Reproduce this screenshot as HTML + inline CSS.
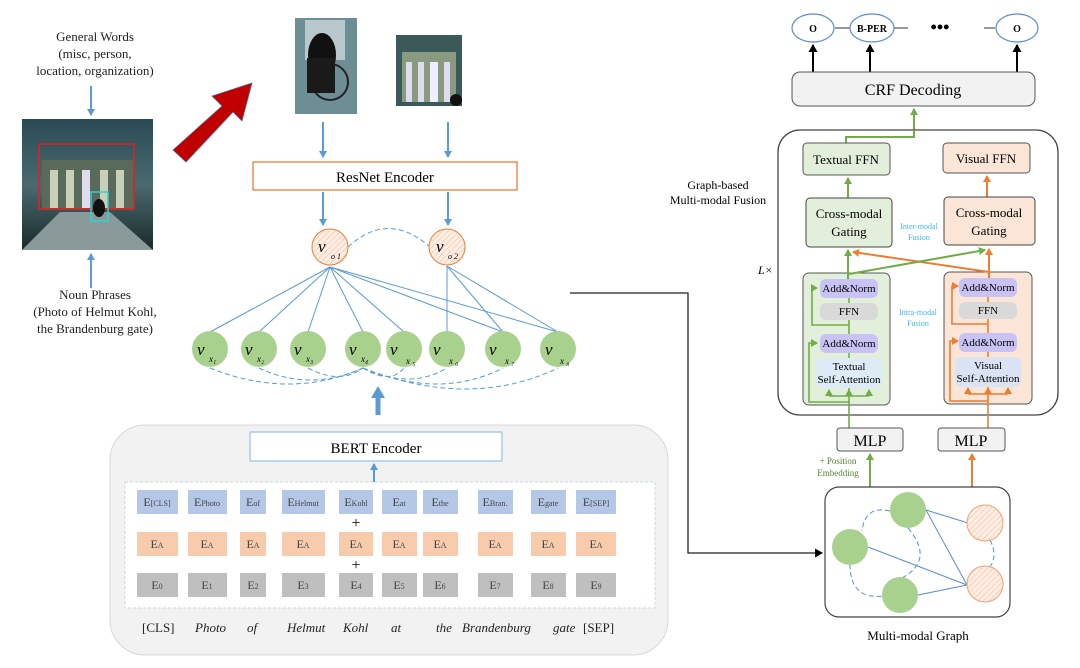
<!DOCTYPE html>
<html><head><meta charset="utf-8"><style>
html,body{margin:0;padding:0;background:#fff;}
svg{display:block;font-family:"Liberation Serif",serif;}
</style></head><body>
<svg width="1080" height="668" viewBox="0 0 1080 668" xmlns="http://www.w3.org/2000/svg">
<defs>
<marker id="ab" markerWidth="8" markerHeight="8" refX="6" refY="4" orient="auto" markerUnits="userSpaceOnUse"><path d="M0,0 L7,4 L0,8 Z" fill="#5b9bd5"/></marker>
<marker id="ag" markerWidth="8" markerHeight="8" refX="6" refY="4" orient="auto" markerUnits="userSpaceOnUse"><path d="M0,0 L7,4 L0,8 Z" fill="#70ad47"/></marker>
<marker id="ao" markerWidth="8" markerHeight="8" refX="6" refY="4" orient="auto" markerUnits="userSpaceOnUse"><path d="M0,0 L7,4 L0,8 Z" fill="#ed7d31"/></marker>
<marker id="ak" markerWidth="9" markerHeight="9" refX="7" refY="4.5" orient="auto" markerUnits="userSpaceOnUse"><path d="M0,0 L8,4.5 L0,9 Z" fill="#000"/></marker>
<pattern id="hatch" width="4" height="4" patternUnits="userSpaceOnUse" patternTransform="rotate(45)"><rect width="4" height="4" fill="#fdeee4"/><line x1="0" y1="0" x2="0" y2="4" stroke="#f4b89a" stroke-width="1"/></pattern>
<linearGradient id="sky" x1="0" y1="0" x2="0" y2="1"><stop offset="0" stop-color="#2a4a55"/><stop offset="0.5" stop-color="#4a6a70"/><stop offset="1" stop-color="#1a2a2a"/></linearGradient>
</defs>

<g font-size="13" text-anchor="middle" fill="#222">
<text x="95" y="41">General Words</text>
<text x="95" y="58">(misc, person,</text>
<text x="95" y="75">location, organization)</text>
<text x="95" y="299">Noun Phrases</text>
<text x="95" y="316">(Photo of Helmut Kohl,</text>
<text x="95" y="333">the Brandenburg gate)</text>
</g>
<line x1="91" y1="86" x2="91" y2="115" stroke="#5b9bd5" stroke-width="2" marker-end="url(#ab)"/>
<line x1="91" y1="288" x2="91" y2="254" stroke="#5b9bd5" stroke-width="2" marker-end="url(#ab)"/>

<rect x="22" y="119" width="131" height="131" fill="url(#sky)"/>
<rect x="42" y="160" width="92" height="50" fill="#5a6a5a"/>
<rect x="50" y="170" width="8" height="38" fill="#c8d0b8"/><rect x="66" y="170" width="8" height="38" fill="#c8d0b8"/><rect x="82" y="170" width="8" height="38" fill="#dde"/><rect x="100" y="170" width="8" height="38" fill="#c8d0b8"/><rect x="116" y="170" width="8" height="38" fill="#c8d0b8"/>
<path d="M22,250 L60,212 L110,212 L153,250 Z" fill="#8a9a9a"/>
<rect x="39" y="144" width="95" height="65" fill="none" stroke="#e02020" stroke-width="1.5"/>
<rect x="91" y="192" width="17" height="29" fill="none" stroke="#30d0d0" stroke-width="1.5"/>
<ellipse cx="99" cy="208" rx="6" ry="9" fill="#111"/>

<path d="M173,150 L222,106 L212,96 L252,83 L242,121 L233,112 L186,162 Z" fill="#c00000" stroke="#5a6a8a" stroke-width="0.8"/>

<rect x="295" y="18" width="62" height="96" fill="#6e8e96"/>
<rect x="305" y="20" width="40" height="40" fill="#b8c8cc"/>
<ellipse cx="322" cy="55" rx="14" ry="22" fill="#111"/>
<circle cx="330" cy="82" r="18" fill="none" stroke="#222" stroke-width="2"/>
<rect x="307" y="58" width="28" height="35" fill="#1a1a1a"/>
<rect x="396" y="35" width="66" height="71" fill="#3a5a5a"/>
<rect x="402" y="52" width="54" height="50" fill="#8a9a80"/>
<rect x="406" y="62" width="6" height="40" fill="#dde"/><rect x="418" y="62" width="6" height="40" fill="#dde"/><rect x="430" y="62" width="8" height="40" fill="#eef"/><rect x="444" y="62" width="6" height="40" fill="#dde"/>
<circle cx="456" cy="100" r="6" fill="#111"/>

<line x1="323" y1="122" x2="323" y2="157" stroke="#5b9bd5" stroke-width="2" marker-end="url(#ab)"/>
<line x1="448" y1="122" x2="448" y2="157" stroke="#5b9bd5" stroke-width="2" marker-end="url(#ab)"/>
<rect x="253" y="162" width="264" height="28" fill="#fff" stroke="#ed7d31" stroke-width="1.3"/>
<text x="385" y="182" font-size="15" text-anchor="middle">ResNet Encoder</text>
<line x1="323" y1="192" x2="323" y2="225" stroke="#5b9bd5" stroke-width="2" marker-end="url(#ab)"/>
<line x1="448" y1="192" x2="448" y2="225" stroke="#5b9bd5" stroke-width="2" marker-end="url(#ab)"/>

<path d="M348,247 Q388,210 430,247" fill="none" stroke="#5b9bd5" stroke-dasharray="5,3"/>
<g stroke="#5b9bd5" stroke-width="1">
<line x1="330" y1="267" x2="210" y2="332"/><line x1="330" y1="267" x2="259" y2="332"/><line x1="330" y1="267" x2="308" y2="332"/><line x1="330" y1="267" x2="363" y2="332"/><line x1="330" y1="267" x2="404" y2="332"/><line x1="330" y1="267" x2="503" y2="332"/><line x1="330" y1="267" x2="558" y2="332"/>
<line x1="447" y1="266" x2="447" y2="332"/><line x1="447" y1="266" x2="503" y2="332"/><line x1="447" y1="266" x2="558" y2="332"/>
</g>
<g fill="none" stroke="#5b9bd5" stroke-dasharray="5,3">
<path d="M210,368 Q290,400 363,368"/><path d="M259,368 Q310,392 363,368"/><path d="M308,368 Q340,385 363,368"/>
<path d="M363,368 Q390,385 404,368"/><path d="M363,368 Q410,390 447,368"/><path d="M363,368 Q440,400 503,368"/><path d="M363,368 Q470,410 558,368"/>
</g>
<circle cx="330" cy="247" r="18" fill="url(#hatch)" stroke="#ed7d31"/>
<circle cx="447" cy="247" r="18" fill="url(#hatch)" stroke="#ed7d31"/>
<g font-style="italic" font-size="17"><text x="318" y="252">v</text><text x="436" y="252">v</text></g>
<g font-style="italic" font-size="8"><text x="331" y="259">o 1</text><text x="448" y="259">o 2</text></g>
<g fill="#a9d18e">
<circle cx="210" cy="349" r="18"/><circle cx="259" cy="349" r="18"/><circle cx="308" cy="349" r="18"/><circle cx="363" cy="349" r="18"/><circle cx="404" cy="349" r="18"/><circle cx="447" cy="349" r="18"/><circle cx="503" cy="349" r="18"/><circle cx="558" cy="349" r="18"/>
</g>
<g font-style="italic" font-size="17">
<text x="197" y="355">v</text><text x="245" y="355">v</text><text x="294" y="355">v</text><text x="349" y="355">v</text><text x="390" y="355">v</text><text x="433" y="355">v</text><text x="489" y="355">v</text><text x="545" y="355">v</text>
</g>
<g font-style="italic" font-size="9">
<text x="209" y="362">x₁</text><text x="257" y="362">x₂</text><text x="306" y="362">x₃</text><text x="361" y="362">x₄</text><text x="406" y="364">x ₅</text><text x="449" y="364">x ₆</text><text x="505" y="364">x ₇</text><text x="560" y="364">x ₈</text>
</g>
<line x1="378" y1="415" x2="378" y2="396" stroke="#5b9bd5" stroke-width="5"/>
<path d="M371,398 L378,386 L385,398 Z" fill="#5b9bd5"/>

<rect x="110" y="425" width="558" height="230" rx="35" fill="#f2f2f2" stroke="#d8d8d8"/>
<rect x="250" y="432" width="252" height="29" fill="#fff" stroke="#9dc3e6" stroke-width="1.3"/>
<text x="376" y="453" font-size="15" text-anchor="middle">BERT Encoder</text>
<line x1="374" y1="483" x2="374" y2="464" stroke="#5b9bd5" stroke-width="2" marker-end="url(#ab)"/>
<rect x="125" y="482" width="530" height="126" fill="#fff" stroke="#c8d8e8" stroke-dasharray="3,2"/>
<g fill="#b4c7e7">
<rect x="137" y="490" width="41" height="24"/><rect x="188" y="490" width="39" height="24"/><rect x="240" y="490" width="26" height="24"/><rect x="282" y="490" width="43" height="24"/><rect x="339" y="490" width="34" height="24"/><rect x="382" y="490" width="35" height="24"/><rect x="423" y="490" width="35" height="24"/><rect x="478" y="490" width="35" height="24"/><rect x="531" y="490" width="35" height="24"/><rect x="576" y="490" width="40" height="24"/>
</g>
<g fill="#f8cbad">
<rect x="137" y="532" width="41" height="24"/><rect x="188" y="532" width="39" height="24"/><rect x="240" y="532" width="26" height="24"/><rect x="282" y="532" width="43" height="24"/><rect x="339" y="532" width="34" height="24"/><rect x="382" y="532" width="35" height="24"/><rect x="423" y="532" width="35" height="24"/><rect x="478" y="532" width="35" height="24"/><rect x="531" y="532" width="35" height="24"/><rect x="576" y="532" width="40" height="24"/>
</g>
<g fill="#bfbfbf">
<rect x="137" y="573" width="41" height="24"/><rect x="188" y="573" width="39" height="24"/><rect x="240" y="573" width="26" height="24"/><rect x="282" y="573" width="43" height="24"/><rect x="339" y="573" width="34" height="24"/><rect x="382" y="573" width="35" height="24"/><rect x="423" y="573" width="35" height="24"/><rect x="478" y="573" width="35" height="24"/><rect x="531" y="573" width="35" height="24"/><rect x="576" y="573" width="40" height="24"/>
</g>
<g font-size="12" fill="#444" text-anchor="middle">
<text x="157" y="506">E<tspan font-size="8">[CLS]</tspan></text>
<text x="207" y="506">E<tspan font-size="8">Photo</tspan></text>
<text x="253" y="506">E<tspan font-size="8">of</tspan></text>
<text x="303" y="506">E<tspan font-size="8">Helmut</tspan></text>
<text x="356" y="506">E<tspan font-size="8">Kohl</tspan></text>
<text x="399" y="506">E<tspan font-size="8">at</tspan></text>
<text x="440" y="506">E<tspan font-size="8">the</tspan></text>
<text x="495" y="506">E<tspan font-size="8">Bran.</tspan></text>
<text x="548" y="506">E<tspan font-size="8">gate</tspan></text>
<text x="596" y="506">E<tspan font-size="8">[SEP]</tspan></text>
</g>
<g font-size="12" fill="#444" text-anchor="middle">
<text x="157" y="548">E<tspan font-size="8">A</tspan></text><text x="207" y="548">E<tspan font-size="8">A</tspan></text><text x="253" y="548">E<tspan font-size="8">A</tspan></text><text x="303" y="548">E<tspan font-size="8">A</tspan></text><text x="356" y="548">E<tspan font-size="8">A</tspan></text><text x="399" y="548">E<tspan font-size="8">A</tspan></text><text x="440" y="548">E<tspan font-size="8">A</tspan></text><text x="495" y="548">E<tspan font-size="8">A</tspan></text><text x="548" y="548">E<tspan font-size="8">A</tspan></text><text x="596" y="548">E<tspan font-size="8">A</tspan></text>
</g>
<g font-size="12" fill="#444" text-anchor="middle">
<text x="157" y="589">E<tspan font-size="8">0</tspan></text><text x="207" y="589">E<tspan font-size="8">1</tspan></text><text x="253" y="589">E<tspan font-size="8">2</tspan></text><text x="303" y="589">E<tspan font-size="8">3</tspan></text><text x="356" y="589">E<tspan font-size="8">4</tspan></text><text x="399" y="589">E<tspan font-size="8">5</tspan></text><text x="440" y="589">E<tspan font-size="8">6</tspan></text><text x="495" y="589">E<tspan font-size="8">7</tspan></text><text x="548" y="589">E<tspan font-size="8">8</tspan></text><text x="596" y="589">E<tspan font-size="8">9</tspan></text>
</g>
<g font-size="16" text-anchor="middle"><text x="356" y="528">+</text><text x="356" y="570">+</text></g>
<g font-size="13" fill="#222">
<text x="142" y="632">[CLS]</text>
<text x="195" y="632" font-style="italic">Photo</text>
<text x="247" y="632" font-style="italic">of</text>
<text x="287" y="632" font-style="italic">Helmut</text>
<text x="343" y="632" font-style="italic">Kohl</text>
<text x="391" y="632" font-style="italic">at</text>
<text x="436" y="632" font-style="italic">the</text>
<text x="462" y="632" font-style="italic">Brandenburg</text>
<text x="553" y="632" font-style="italic">gate</text>
<text x="583" y="632">[SEP]</text>
</g>

<polyline points="570,293 688,293 688,553 822,553" fill="none" stroke="#222" stroke-width="1.3" marker-end="url(#ak)"/>

<line x1="835" y1="28" x2="850" y2="28" stroke="#333"/>
<line x1="894" y1="28" x2="908" y2="28" stroke="#333"/>
<line x1="984" y1="28" x2="995" y2="28" stroke="#333"/>
<g fill="#fff" stroke="#5b8bd5" stroke-width="1.2">
<ellipse cx="813" cy="28" rx="21" ry="14"/><ellipse cx="872" cy="28" rx="22" ry="14"/><ellipse cx="1017" cy="28" rx="21" ry="14"/>
</g>
<g font-size="10" font-weight="bold" text-anchor="middle"><text x="813" y="32">O</text><text x="872" y="32">B-PER</text><text x="1017" y="32">O</text></g>
<text x="940" y="33" font-size="18" font-weight="bold" text-anchor="middle">•••</text>
<g stroke="#000" stroke-width="2">
<line x1="813" y1="72" x2="813" y2="45" marker-end="url(#ak)"/><line x1="870" y1="72" x2="870" y2="45" marker-end="url(#ak)"/><line x1="1017" y1="72" x2="1017" y2="45" marker-end="url(#ak)"/>
</g>
<rect x="792" y="72" width="243" height="34" rx="8" fill="#f2f2f2" stroke="#555"/>
<text x="913" y="95" font-size="16" text-anchor="middle">CRF Decoding</text>
<line x1="914" y1="130" x2="914" y2="109" stroke="#70ad47" stroke-width="2" marker-end="url(#ag)"/>

<rect x="778" y="130" width="280" height="285" rx="22" fill="#fff" stroke="#444" stroke-width="1.3"/>
<text x="718" y="189" font-size="12" text-anchor="middle">Graph-based</text>
<text x="718" y="204" font-size="12" text-anchor="middle">Multi-modal Fusion</text>
<text x="758" y="274" font-size="12" font-style="italic">L×</text>
<polyline points="914,130 914,137 846,137 846,143" fill="none" stroke="#70ad47" stroke-width="2"/>
<rect x="803" y="143" width="87" height="32" rx="4" fill="#e2efda" stroke="#555"/>
<text x="846" y="164" font-size="13" text-anchor="middle">Textual FFN</text>
<rect x="943" y="143" width="87" height="30" rx="4" fill="#fbe5d6" stroke="#555"/>
<text x="986" y="163" font-size="13" text-anchor="middle">Visual FFN</text>
<line x1="848" y1="198" x2="848" y2="178" stroke="#70ad47" stroke-width="2" marker-end="url(#ag)"/>
<line x1="987" y1="197" x2="987" y2="176" stroke="#ed7d31" stroke-width="2" marker-end="url(#ao)"/>
<rect x="806" y="198" width="86" height="49" rx="4" fill="#e2efda" stroke="#444"/>
<text x="849" y="218" font-size="13" text-anchor="middle">Cross-modal</text>
<text x="849" y="236" font-size="13" text-anchor="middle">Gating</text>
<rect x="944" y="197" width="91" height="48" rx="4" fill="#fbe5d6" stroke="#444"/>
<text x="989" y="217" font-size="13" text-anchor="middle">Cross-modal</text>
<text x="989" y="235" font-size="13" text-anchor="middle">Gating</text>
<g font-size="8" fill="#40b8f0" text-anchor="middle"><text x="919" y="229">Inter-modal</text><text x="919" y="240">Fusion</text><text x="918" y="315">Intra-modal</text><text x="918" y="326">Fusion</text></g>

<rect x="803" y="273" width="87" height="132" rx="6" fill="#e2efda" stroke="#555"/>
<rect x="944" y="272" width="88" height="132" rx="6" fill="#fbe5d6" stroke="#555"/>
<line x1="989" y1="272" x2="853" y2="252" stroke="#ed7d31" stroke-width="2" marker-end="url(#ao)"/>
<line x1="849" y1="274" x2="985" y2="250" stroke="#70ad47" stroke-width="2" marker-end="url(#ag)"/>
<line x1="848" y1="280" x2="848" y2="250" stroke="#70ad47" stroke-width="2" marker-end="url(#ag)"/>
<line x1="989" y1="280" x2="989" y2="249" stroke="#ed7d31" stroke-width="2" marker-end="url(#ao)"/>
<g stroke="#70ad47" stroke-width="1.6" fill="none">
<line x1="849" y1="428" x2="849" y2="360"/>
<line x1="849" y1="320" x2="849" y2="334"/><line x1="849" y1="298" x2="849" y2="303"/><line x1="849" y1="353" x2="849" y2="358"/>
<polyline points="849,325 812,325 812,288 817,288" marker-end="url(#ag)"/>
<polyline points="849,402 809,402 809,343 817,343" marker-end="url(#ag)"/>
<polyline points="829,396 869,396"/>
<line x1="829" y1="396" x2="829" y2="390" marker-end="url(#ag)"/><line x1="849" y1="396" x2="849" y2="390" marker-end="url(#ag)"/><line x1="869" y1="396" x2="869" y2="390" marker-end="url(#ag)"/>
</g>
<g stroke="#ed7d31" stroke-width="1.6" fill="none">
<line x1="988" y1="428" x2="988" y2="358"/>
<line x1="988" y1="319" x2="988" y2="333"/><line x1="988" y1="297" x2="988" y2="302"/><line x1="988" y1="352" x2="988" y2="357"/>
<polyline points="988,324 952,324 952,286 958,286" marker-end="url(#ao)"/>
<polyline points="988,401 950,401 950,341 958,341" marker-end="url(#ao)"/>
<polyline points="968,394 1008,394"/>
<line x1="968" y1="394" x2="968" y2="388" marker-end="url(#ao)"/><line x1="988" y1="394" x2="988" y2="388" marker-end="url(#ao)"/><line x1="1008" y1="394" x2="1008" y2="388" marker-end="url(#ao)"/>
</g>
<g font-size="11" text-anchor="middle">
<rect x="820" y="279" width="58" height="19" rx="6" fill="#c9c3f5"/><text x="849" y="292">Add&amp;Norm</text>
<rect x="820" y="303" width="58" height="17" rx="6" fill="#d9d9d9"/><text x="849" y="315">FFN</text>
<rect x="820" y="334" width="58" height="19" rx="6" fill="#c9c3f5"/><text x="849" y="347">Add&amp;Norm</text>
<rect x="816" y="358" width="66" height="30" rx="6" fill="#ddebf7"/><text x="849" y="370">Textual</text><text x="849" y="383">Self-Attention</text>
<rect x="959" y="278" width="58" height="19" rx="6" fill="#c9c3f5"/><text x="988" y="291">Add&amp;Norm</text>
<rect x="959" y="302" width="58" height="17" rx="6" fill="#d9d9d9"/><text x="988" y="314">FFN</text>
<rect x="959" y="333" width="58" height="19" rx="6" fill="#c9c3f5"/><text x="988" y="346">Add&amp;Norm</text>
<rect x="955" y="357" width="66" height="30" rx="6" fill="#dae3f3"/><text x="988" y="369">Visual</text><text x="988" y="382">Self-Attention</text>
</g>

<rect x="837" y="428" width="66" height="23" rx="3" fill="#f2f2f2" stroke="#555"/>
<text x="870" y="446" font-size="16" text-anchor="middle">MLP</text>
<rect x="938" y="428" width="67" height="23" rx="3" fill="#f2f2f2" stroke="#555"/>
<text x="971" y="446" font-size="16" text-anchor="middle">MLP</text>
<line x1="870" y1="487" x2="870" y2="454" stroke="#70ad47" stroke-width="2" marker-end="url(#ag)"/>
<line x1="972" y1="487" x2="972" y2="454" stroke="#ed7d31" stroke-width="2" marker-end="url(#ao)"/>
<text x="838" y="464" font-size="9" fill="#548235" text-anchor="middle">+ Position</text>
<text x="838" y="476" font-size="9" fill="#548235" text-anchor="middle">Embedding</text>

<rect x="825" y="487" width="185" height="130" rx="14" fill="#fff" stroke="#444" stroke-width="1.2"/>
<g stroke="#5b8bd5" stroke-width="1" fill="none">
<line x1="926" y1="510" x2="968" y2="523"/><line x1="926" y1="510" x2="967" y2="585"/><line x1="868" y1="547" x2="967" y2="585"/><line x1="918" y1="595" x2="967" y2="585"/>
<g stroke-dasharray="5,3"><path d="M890,511 Q865,505 862,531"/><path d="M908,528 Q935,560 902,578"/><path d="M850,564 Q850,600 883,596"/><path d="M990,540 Q998,555 990,567"/></g>
</g>
<g fill="#a9d18e"><circle cx="850" cy="547" r="18"/><circle cx="908" cy="510" r="18"/><circle cx="900" cy="595" r="18"/></g>
<circle cx="985" cy="523" r="18" fill="url(#hatch)" stroke="#f4a070"/>
<circle cx="985" cy="584" r="18" fill="url(#hatch)" stroke="#f4a070"/>
<text x="918" y="640" font-size="13" text-anchor="middle">Multi-modal Graph</text>
</svg>
</body></html>
